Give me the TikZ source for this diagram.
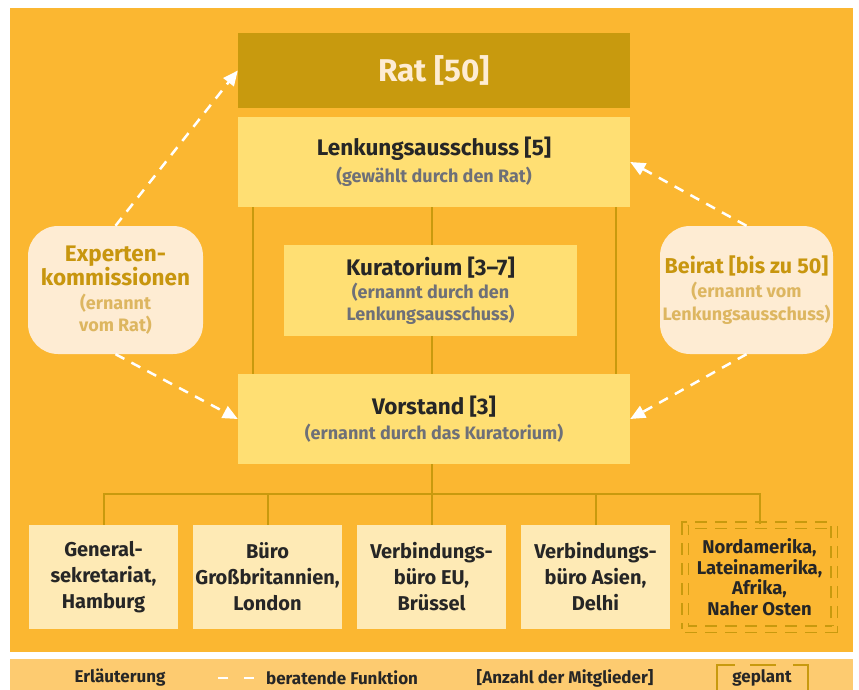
\documentclass[tikz,border=0pt]{standalone}
\usepackage{fontspec}
\setmainfont{Fira Sans}
\usetikzlibrary{arrows.meta,backgrounds}

\definecolor{bgorange}{HTML}{FBB731}
\definecolor{legorange}{HTML}{FDCB70}
\definecolor{ratgold}{HTML}{C89A0E}
\definecolor{boxyellow}{HTML}{FFDF73}
\definecolor{boxcream}{HTML}{FEEAB5}
\definecolor{roundcream}{HTML}{FEECD3}
\definecolor{textdark}{HTML}{262626}
\definecolor{subgray}{HTML}{6E7078}
\definecolor{roundtitle}{HTML}{C8960E}
\definecolor{roundsub}{HTML}{DDB660}

\newcommand\titel{\fontsize{22.5}{27}\selectfont\bfseries}
\newcommand\zusatz{\fontsize{18}{22}\selectfont\bfseries\color{subgray}}

\begin{document}
\begin{tikzpicture}[x=1pt, y=-1pt,
  organ/.style={rectangle, fill=boxyellow, text=textdark, minimum width=392pt,
    minimum height=90pt, align=center, inner sep=0pt},
  office/.style={rectangle, fill=boxcream, text=textdark, minimum width=149pt,
    minimum height=104pt, align=center, inner sep=0pt,
    font=\fontsize{20}{26}\selectfont\bfseries},
  panel/.style={rectangle, rounded corners=30pt, fill=roundcream, text=roundtitle,
    minimum height=128pt, align=center, inner sep=0pt},
  conn/.style={draw=ratgold, line width=2pt},
  advice/.style={draw=white, line width=2.5pt, dash pattern=on 10pt off 8pt,
    -{Triangle[length=15pt,width=13pt,fill=white]}},
  legend/.style={text=textdark, font=\fontsize{17}{19}\selectfont\bfseries, inner sep=0pt}]

\useasboundingbox (0,0) rectangle (859,690);
\begin{scope}[on background layer]
  \fill[bgorange] (10,8) rectangle (853,652);
\end{scope}
\fill[legorange] (10,659) rectangle (853,690);

% Gremien
\node[organ, fill=ratgold, text=roundcream, minimum height=75pt,
  font=\fontsize{31.5}{34}\selectfont\bfseries] (rat) at (434,70.5) {Rat [50]};
\node[organ] (lenk) at (434,162)
  {\titel Lenkungsausschuss [5]\\[5.5pt] \zusatz (gewählt durch den Rat)};
\node[organ] (vorstand) at (434,419)
  {\titel Vorstand [3]\\[5.5pt] \zusatz (ernannt durch das Kuratorium)};

\begin{scope}[on background layer]
  \draw[conn] ([xshift=15pt]lenk.south west) -- ([xshift=15pt]vorstand.north west);
  \draw[conn] ([xshift=-2pt]lenk.south) -- ([xshift=-2pt]vorstand.north);
  \draw[conn] ([xshift=-14pt]lenk.south east) -- ([xshift=-14pt]vorstand.north east);
\end{scope}

\node[organ, minimum width=293pt, minimum height=91pt] (kurat) at (430.5,290.5)
  {\titel Kuratorium [3--7]\\[4pt] \zusatz (ernannt durch den\\[2.5pt] \zusatz Lenkungsausschuss)};

% Beratung
\node[panel, minimum width=175pt] (experten) at (115.5,290)
  {\titel Experten-\\ \titel kommissionen\\[7pt]
   \zusatz\color{roundsub} (ernannt\\[2pt] \zusatz\color{roundsub} vom Rat)};
\node[panel, minimum width=173pt] (beirat) at (746.5,290)
  {\titel\fontsize{21.5}{27}\selectfont Beirat [bis zu 50]\\[5.5pt]
   \zusatz\color{roundsub} (ernannt vom\\[3pt] \zusatz\color{roundsub} Lenkungsausschuss)};

\draw[advice] (experten.north) -- (rat.west);
\draw[advice] (experten.south) -- (vorstand.west);
\draw[advice] (beirat.north) -- (lenk.east);
\draw[advice] (beirat.south) -- (vorstand.east);

% Bueros
\node[office] (b1) at (103.5,577) {General-\\sekretariat,\\Hamburg};
\node[office] (b2) at (267.5,577) {Büro\\Großbritannien,\\London};
\node[office] (b3) at (431.5,577) {Verbindungs-\\büro EU,\\Brüssel};
\node[office] (b4) at (595.5,577) {Verbindungs-\\büro Asien,\\Delhi};
\node[office, fill=none, draw=ratgold, line width=1.5pt, dash pattern=on 12pt off 8pt,
  double=bgorange, double distance=5pt, font=\fontsize{18.5}{20.5}\selectfont\bfseries]
  (b5) at (759.5,577) {Nordamerika,\\Lateinamerika,\\Afrika,\\Naher Osten};

\coordinate (fork) at ([yshift=-30pt]vorstand.south);
\draw[conn] (b3.north) -- (b3.north |- vorstand.south);
\draw[conn] (b1.north) |- (fork) -| (b5.north);
\draw[conn] (b2.north) -- (b2.north |- fork);
\draw[conn] (b4.north) -- (b4.north |- fork);

% Erlaeuterung
\node[legend] (erl) at (120,678) {Erläuterung};
\coordinate (d1) at (218,678);
\coordinate (d2) at (254,678);
\draw[draw=white, line width=2.5pt, dash pattern=on 10pt off 16pt] (d1) -- (d2);
\node[legend, anchor=west] (funktion) at (266,678) {beratende Funktion};
\node[legend] (anzahl) at (565,678) {[Anzahl der Mitglieder]};
\node[legend] (geplant) at (762,678) {geplant};
\draw[draw=ratgold, line width=1.5pt, dash pattern=on 43pt off 15pt on 26pt off 17pt on 40pt]
  (717,690) -- (717,665) -- (808,665) -- (808,690);

\end{tikzpicture}
\end{document}
